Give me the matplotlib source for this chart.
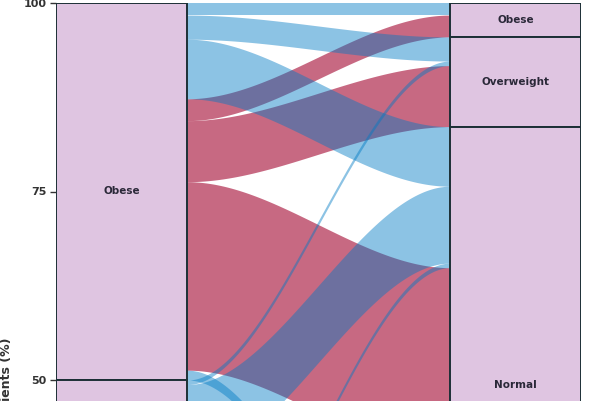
import matplotlib
matplotlib.use("Agg")
import matplotlib.pyplot as plt
from matplotlib.patches import Rectangle
import numpy as np

# strata on each axis (stacked from the top, values in % of patients)
left_strata = ["Obese", "Overweight", "Normal"]
right_strata = ["Obese", "Overweight", "Normal", ""]

# flows: listed in the order they leave each left stratum
flow_from = ["Obese", "Obese", "Obese", "Obese", "Obese", "Obese", "Obese",
             "Overweight", "Overweight", "Overweight",
             "Normal", "Normal", "Normal"]
flow_to = ["Obese", "Overweight", "Normal", "Obese", "Overweight", "Normal", "",
           "Overweight", "Normal", "Normal",
           "Normal", "Normal", ""]
flow_group = ["b", "b", "b", "r", "r", "r", "b",
              "b", "b", "r",
              "b", "r", "r"]
flow_value = [1.6, 3.2, 7.9, 2.9, 8.1, 25.0, 1.3,
              0.6, 10.2, 19.2,
              0.6, 5.7, 13.7]

colors = {"b": (0 / 255, 122 / 255, 196 / 255), "r": (163 / 255, 5 / 255, 47 / 255)}
alphas = {"b": 0.45, "r": 0.6}
W = 1 / 3

fig = plt.figure(figsize=(6, 4.01), dpi=100)
ax = fig.add_axes([56 / 600, 1 - 3 / 401 - 754 / 401, 525 / 600, 754 / 401])
ax.set_xlim(1 - W / 2, 2 + W / 2)
ax.set_ylim(0, 100)
y_visible = 100 - 398 / 7.54  # lowest value still inside the picture

# stack flows on the left (list order) and on the right (group, then left stratum)
n = len(flow_value)
left_top = np.zeros(n)
pos = 100.0
for s in left_strata:
    for i in range(n):
        if flow_from[i] == s:
            left_top[i] = pos
            pos -= flow_value[i]
right_top = np.zeros(n)
pos = 100.0
for s in right_strata:
    idx = [i for i in range(n) if flow_to[i] == s]
    idx.sort(key=lambda i: ("br".index(flow_group[i]), left_strata.index(flow_from[i])))
    for i in idx:
        right_top[i] = pos
        pos -= flow_value[i]

t = np.linspace(0, 1, 300)
sm = 3 * t ** 2 - 2 * t ** 3
xs = 1 + W / 2 + t * (1 - W)
for grp in ["r", "b"]:
    for i in range(n):
        if flow_group[i] != grp:
            continue
        top = left_top[i] + (right_top[i] - left_top[i]) * sm
        bot = top - flow_value[i]
        ax.fill_between(xs, bot, top, color=colors[grp], alpha=alphas[grp], lw=0, zorder=2)

# strata boxes
for xc, strata, key in [(1, left_strata, flow_from), (2, right_strata, flow_to)]:
    pos = 100.0
    for s in strata:
        h = sum(v for v, k in zip(flow_value, key) if k == s)
        ax.add_patch(Rectangle((xc - W / 2, pos - h), W, h, facecolor="#dfc5e1",
                               edgecolor="#1c2f36", lw=1.4, zorder=3))
        if s and pos - h / 2 > y_visible:
            ax.text(xc, pos - h / 2, s, ha="center", va="center", fontsize=7.5,
                    fontweight="bold", color="#2a2838", zorder=4)
        pos -= h

ax.set_yticks([50, 75, 100])
ax.set_xticks([])
ax.tick_params(axis="y", length=4, width=1, color="#333333", labelsize=8,
               labelcolor="#333333", pad=3)
for sp in ax.spines.values():
    sp.set_visible(False)
for lab in ax.get_yticklabels():
    lab.set_fontweight("bold")

fig.text(0.011, 1 - 337 / 401, "Patients (%)", rotation=90, ha="center", va="top",
         fontsize=9, fontweight="bold", color="#333333")

fig.savefig("out.png", dpi=100)
